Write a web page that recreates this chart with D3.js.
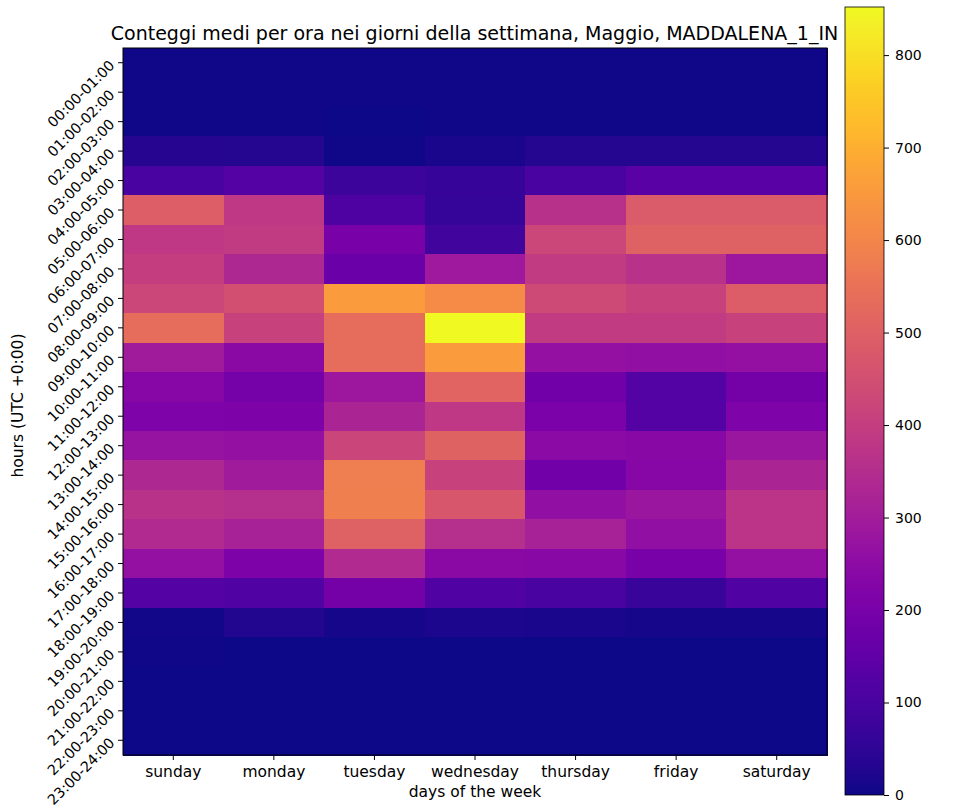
<!DOCTYPE html>
<html>
<head>
<meta charset="utf-8">
<script src="https://cdn.jsdelivr.net/npm/d3@7"></script>
<style>
  html, body { margin: 0; padding: 0; background: #fff; }
  svg { display: block; font-family: "DejaVu Sans", sans-serif; }
</style>
</head>
<body>
<svg id="chart" width="953" height="811"></svg>
<script>
// ---- data ----
const title = "Conteggi medi per ora nei giorni della settimana, Maggio, MADDALENA_1_IN";
const days = ["sunday", "monday", "tuesday", "wednesday", "thursday", "friday", "saturday"];
const hours = ["00:00-01:00","01:00-02:00","02:00-03:00","03:00-04:00","04:00-05:00","05:00-06:00",
  "06:00-07:00","07:00-08:00","08:00-09:00","09:00-10:00","10:00-11:00","11:00-12:00",
  "12:00-13:00","13:00-14:00","14:00-15:00","15:00-16:00","16:00-17:00","17:00-18:00",
  "18:00-19:00","19:00-20:00","20:00-21:00","21:00-22:00","22:00-23:00","23:00-24:00"];
// average counts per hour (index = hour) for each day
const sunday    = [6,5,4,35,100,495,380,400,425,535,295,235,215,272,335,365,340,265,125,8,4,3,3,3];
const monday    = [6,5,4,33,125,380,390,335,450,410,240,195,212,265,295,355,315,212,115,28,3,3,3,3];
const tuesday   = [5,4,3,6,75,110,200,170,655,535,535,285,325,420,580,585,500,340,190,10,3,3,3,3];
const wednesday = [5,4,4,16,65,60,85,290,615,852,655,510,380,505,410,470,355,242,115,20,3,3,3,3];
const thursday  = [6,5,4,32,100,360,425,390,435,390,265,185,205,245,185,262,315,238,100,15,3,3,3,3];
const friday    = [6,5,4,32,135,485,500,365,410,390,260,120,125,238,235,280,262,200,68,12,3,3,3,3];
const saturday  = [6,5,4,30,135,485,500,285,490,410,265,190,215,280,325,370,372,265,118,12,3,3,3,3];
const colorbarTicks = [0,100,200,300,400,500,600,700,800];
const xLabel = "days of the week";
const yLabel = "hours (UTC +0:00)";

const series = [sunday, monday, tuesday, wednesday, thursday, friday, saturday];
const cells = [];
series.forEach((vals, di) => vals.forEach((v, hi) => cells.push({day: days[di], hour: hours[hi], value: v})));

// ---- layout ----
const svg = d3.select("#chart");
const X0 = 123, X1 = 827, Y0 = 48, Y1 = 755;
const CB = {x: 845, w: 39, y0: 7, y1: 795};
const tickFont = 15.5;
const yTickFont = 14.3;
const cbFont = 14;

const vmax = d3.max(cells, d => d.value);
const color = d3.scaleSequential(d3.interpolatePlasma).domain([0, vmax]);

const x = d3.scaleBand().domain(days).range([X0, X1]).padding(0);
const y = d3.scaleBand().domain(hours).range([Y0, Y1]).padding(0);

// cells
svg.append("g").selectAll("rect").data(cells).join("rect")
  .attr("x", d => x(d.day))
  .attr("y", d => y(d.hour))
  .attr("width", x.bandwidth() + 0.5)
  .attr("height", y.bandwidth() + 0.5)
  .attr("fill", d => color(d.value))
  .attr("shape-rendering", "crispEdges");

// frame
svg.append("rect").attr("x", X0).attr("y", Y0).attr("width", X1 - X0).attr("height", Y1 - Y0)
  .attr("fill", "none").attr("stroke", "#000").attr("stroke-width", 1);

// x axis
const xAxis = svg.append("g").attr("transform", `translate(0,${Y1})`)
  .call(d3.axisBottom(x).tickSize(5).tickPadding(6));
xAxis.select(".domain").remove();
xAxis.selectAll("text").attr("font-size", tickFont).attr("font-family", "DejaVu Sans").attr("fill", "#000");
xAxis.selectAll("line").attr("stroke", "#000");

// y axis
const yAxis = svg.append("g").attr("transform", `translate(${X0},0)`)
  .call(d3.axisLeft(y).tickSize(5).tickPadding(6));
yAxis.select(".domain").remove();
yAxis.selectAll("line").attr("stroke", "#000");
yAxis.selectAll("text")
  .attr("font-size", yTickFont).attr("font-family", "DejaVu Sans").attr("fill", "#000")
  .attr("x", null).attr("dy", null)
  .attr("text-anchor", "end")
  .attr("dominant-baseline", "central")
  .attr("transform", "translate(-11,0) rotate(-45)");

// title & labels
svg.append("text").attr("x", 474.5).attr("y", 40).attr("text-anchor", "middle")
  .attr("font-size", 19.0).attr("fill", "#000").text(title);
svg.append("text").attr("x", (X0 + X1) / 2).attr("y", 797).attr("text-anchor", "middle")
  .attr("font-size", tickFont).attr("fill", "#000").text(xLabel);
svg.append("text").attr("transform", `translate(23,${(Y0 + Y1) / 2 + 4}) rotate(-90)`)
  .attr("text-anchor", "middle").attr("font-size", tickFont).attr("fill", "#000").text(yLabel);

// colorbar
const cbScale = d3.scaleLinear().domain([0, vmax]).range([CB.y1, CB.y0]);
const defs = svg.append("defs");
const grad = defs.append("linearGradient").attr("id", "cbgrad")
  .attr("x1", 0).attr("y1", 1).attr("x2", 0).attr("y2", 0);
d3.range(0, 1.0001, 0.02).forEach(t => {
  grad.append("stop").attr("offset", t).attr("stop-color", d3.interpolatePlasma(t));
});
svg.append("rect").attr("x", CB.x).attr("y", CB.y0).attr("width", CB.w).attr("height", CB.y1 - CB.y0)
  .attr("fill", "url(#cbgrad)").attr("stroke", "#000").attr("stroke-width", 0.8);
const cbAxis = svg.append("g").attr("transform", `translate(${CB.x + CB.w},0)`)
  .call(d3.axisRight(cbScale).tickValues(colorbarTicks).tickSize(5).tickPadding(6));
cbAxis.select(".domain").remove();
cbAxis.selectAll("line").attr("stroke", "#000");
cbAxis.selectAll("text").attr("font-size", cbFont).attr("font-family", "DejaVu Sans").attr("fill", "#000");
</script>
</body>
</html>
